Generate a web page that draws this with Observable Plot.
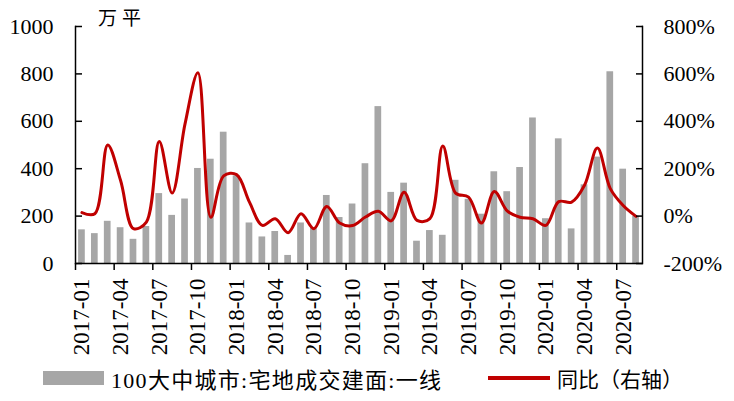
<!DOCTYPE html>
<html><head><meta charset="utf-8">
<script src="https://cdn.jsdelivr.net/npm/d3@7"></script>
<script src="https://cdn.jsdelivr.net/npm/@observablehq/plot@0.6"></script>
<style>
body{margin:0;background:#fff;}
#wrap{position:relative;width:734px;height:401px;background:#fff;}
#unit{position:absolute;left:98px;top:4px;font-family:"Noto Sans CJK SC";font-size:19px;letter-spacing:5px;line-height:26px;color:#000;}
#legend{position:absolute;top:362px;left:0;width:734px;height:39px;color:#000;}
#legend span{position:absolute;}
.lt{line-height:32px;top:0;font-family:"Times New Roman","Liberation Serif","DejaVu Serif",serif;white-space:nowrap;}
.cjk{font-family:"Noto Sans CJK SC";}
svg text{font-family:"Times New Roman","Liberation Serif","DejaVu Serif",serif;}
</style></head><body>
<div id="wrap"><div id="chart"></div><div id="unit">万平</div>
<div id="legend">
  <span style="left:43px;top:9px;width:61px;height:14px;background:#a6a6a6"></span>
  <span class="lt" style="left:111px;font-size:22px;letter-spacing:1.3px">100<span class="cjk" style="position:static">大中城市</span>:<span class="cjk" style="position:static">宅地成交建面</span>:<span class="cjk" style="position:static">一线</span></span>
  <span style="left:488px;top:14px;width:62px;height:4px;background:#c00000"></span>
  <span class="lt cjk" style="left:557px;font-size:21px;font-family:'Noto Sans CJK SC'">同比（右轴）</span>
</div></div>
<script>
const months = ["2017-01","2017-02","2017-03","2017-04","2017-05","2017-06","2017-07","2017-08","2017-09","2017-10","2017-11","2017-12",
  "2018-01","2018-02","2018-03","2018-04","2018-05","2018-06","2018-07","2018-08","2018-09","2018-10","2018-11","2018-12",
  "2019-01","2019-02","2019-03","2019-04","2019-05","2019-06","2019-07","2019-08","2019-09","2019-10","2019-11","2019-12",
  "2020-01","2020-02","2020-03","2020-04","2020-05","2020-06","2020-07","2020-08"];
const area = [142,126,178,151,102,156,295,203,272,401,440,554,370,171,112,135,34,171,150,287,194,251,421,662,300,339,94,139,119,351,271,208,387,303,405,614,189,526,146,332,449,809,398,199];
const yoy = [15,10,300,150,-53,-25,315,97,389,605,-5,170,175,59,-39,-11,-70,10,-53,41,-29,-40,-4,20,-20,101,-18,-11,296,97,80,-29,104,22,-5,-11,-39,61,59,130,287,116,45,-1];
const leftTicks = [0,200,400,600,800,1000];
const rightTicks = [-200,0,200,400,600,800];
const xTickLabels = ["2017-01","2017-04","2017-07","2017-10","2018-01","2018-04","2018-07","2018-10","2019-01","2019-04","2019-07","2019-10","2020-01","2020-04","2020-07"];

const data = months.map((m,i)=>({month:m, area:area[i], yoy:yoy[i]}));
const rightMin = -200, leftMin = 0;
const rightToLeft = v => v - rightMin + leftMin; // right axis (-200%..800%) onto left (0..1000)
const W = 734, H = 362, ML = 75, MR = 92, MT = 26, MB = 99;
const step = (W - ML - MR) / months.length;
const serif = `"Times New Roman","Liberation Serif","DejaVu Serif",serif`;

const chart = Plot.plot({
  width: W, height: H, marginLeft: ML, marginRight: MR, marginTop: MT, marginBottom: MB,
  style: {fontFamily: serif, fontSize: "22px", color: "#000", background: "#fff"},
  x: {domain: months, paddingInner: 0.48, paddingOuter: 0.24, label: null},
  y: {domain: [0, 1000], label: null},
  marks: [
    Plot.barY(data, {x: "month", y: "area", fill: "#a6a6a6"}),
    Plot.line(data, {x: "month", y: d => rightToLeft(d.yoy), stroke: "#c00000", strokeWidth: 3, curve: "catmull-rom"}),
    Plot.ruleY([0], {stroke: "#000", strokeWidth: 1.5}),
    Plot.frame({anchor: "left", stroke: "#000", strokeWidth: 1.5}),
    Plot.frame({anchor: "right", stroke: "#000", strokeWidth: 1.5}),
    Plot.axisY(leftTicks, {anchor: "left", tickSize: 7, dx: 7, fill: "none", label: null, strokeWidth: 1.5}),
    Plot.axisY(leftTicks, {anchor: "left", tickSize: 0, tickPadding: 22, label: null, fontSize: 22, fontFamily: serif,
      tickFormat: d => String(d)}),
    Plot.axisY(rightTicks.map(rightToLeft), {anchor: "right", tickSize: 7, dx: -7, fill: "none", label: null, strokeWidth: 1.5}),
    Plot.axisY(rightTicks.map(rightToLeft), {anchor: "right", tickSize: 0, tickPadding: 21, label: null, fontSize: 22, fontFamily: serif,
      tickFormat: v => `${v - leftMin + rightMin}%`}),
    Plot.axisX(xTickLabels, {anchor: "bottom", tickSize: 7, dx: -step / 2, fill: "none", label: null, strokeWidth: 1.5}),
    Plot.axisX(xTickLabels, {anchor: "bottom", tickSize: 0, tickPadding: 15, tickRotate: -90, label: null, fontSize: 23, fontFamily: serif})
  ]
});
document.getElementById("chart").appendChild(chart);
</script>
</body></html>
